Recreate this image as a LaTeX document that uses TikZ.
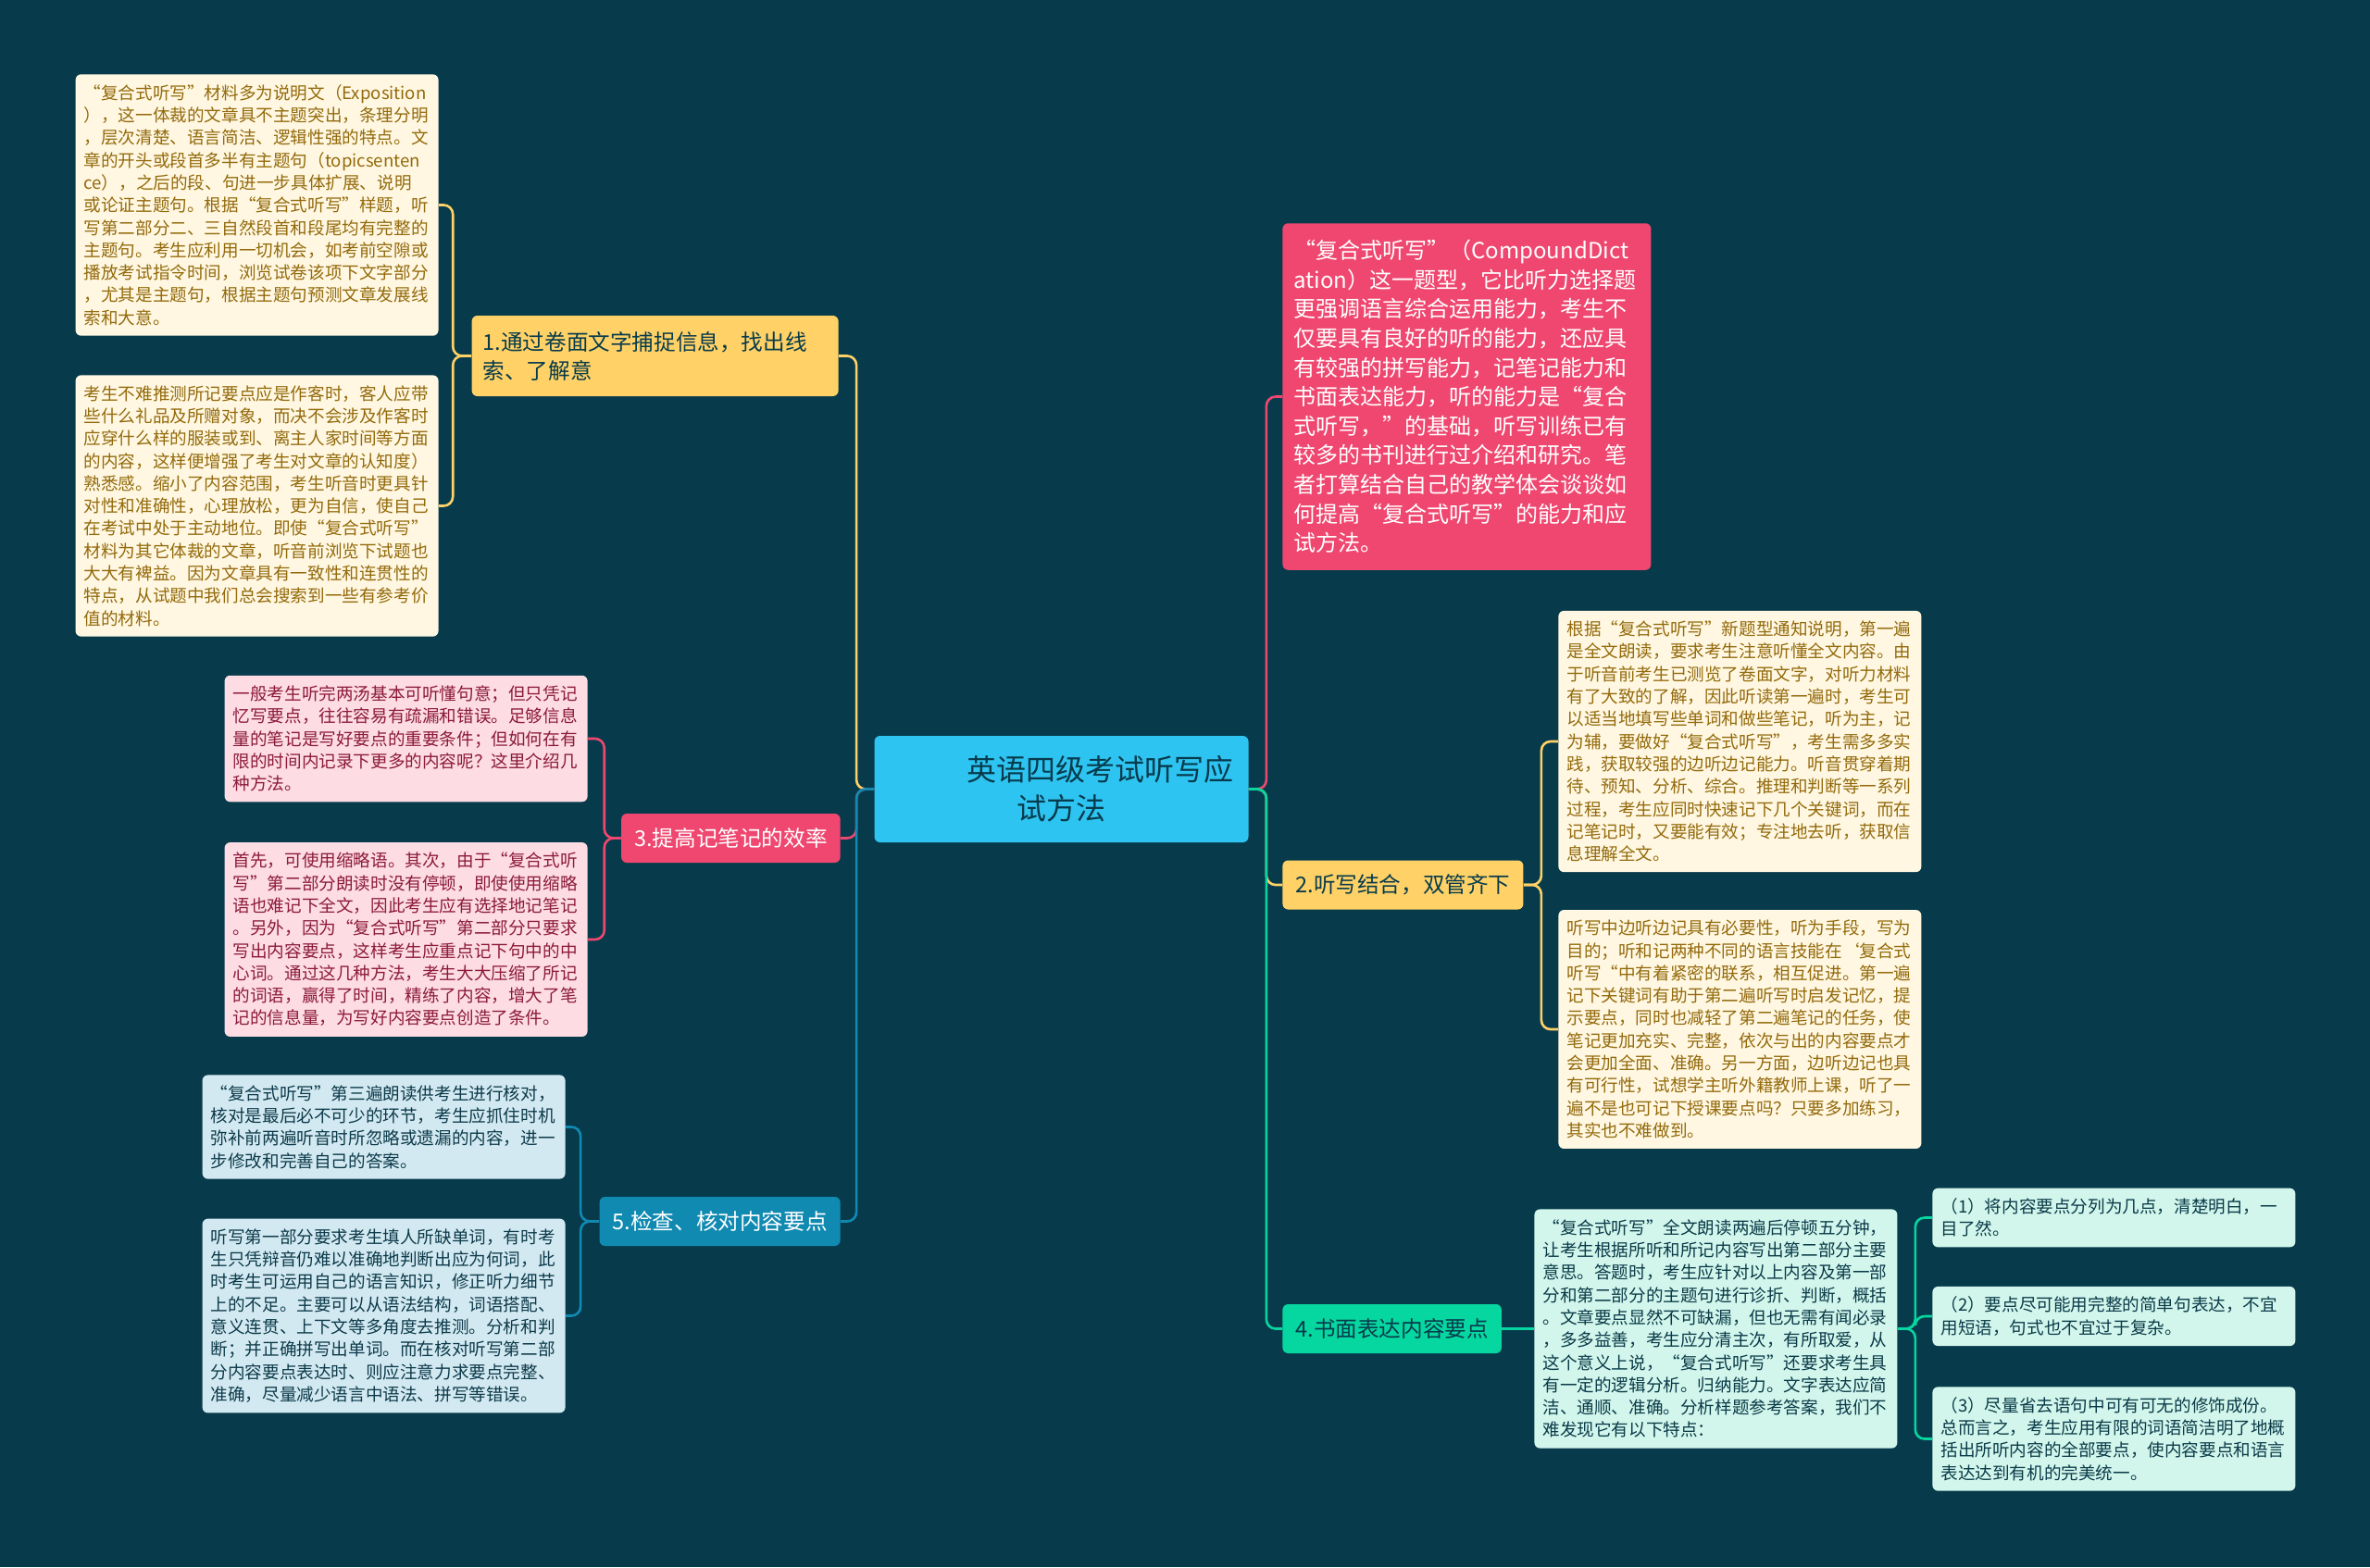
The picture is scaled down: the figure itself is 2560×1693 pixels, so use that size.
\documentclass[tikz,border=0pt]{standalone}
\usepackage{fontspec}
\setmainfont{Noto Sans CJK SC}
\definecolor{mmbg}{HTML}{073B4C}
\definecolor{mmyellow}{HTML}{FFD166}
\definecolor{mmred}{HTML}{EF476F}
\definecolor{mmgreen}{HTML}{06D6A0}
\definecolor{mmblue}{HTML}{118AB2}
\definecolor{mmcyan}{HTML}{2EC4F1}
\definecolor{ylfill}{HTML}{FFF7E1}
\definecolor{yltext}{HTML}{936A0C}
\definecolor{plfill}{HTML}{FDDCE3}
\definecolor{pltext}{HTML}{8C1A3B}
\definecolor{blfill}{HTML}{D3E9F1}
\definecolor{bltext}{HTML}{0C3A4A}
\definecolor{glfill}{HTML}{D2F6EC}
\definecolor{gltext}{HTML}{0A3A48}

\begin{document}
\begin{tikzpicture}[
  x=0.5pt, y=-0.5pt,
  box/.style={rounded corners=3pt, align=left, inner ysep=5.5pt},
  topic/.style={box, fill=mmcyan, text=mmbg, align=center, text width=190pt, inner xsep=6pt, minimum height=57.5pt, font=\fontsize{16pt}{21pt}\selectfont},
  branch/.style={box, minimum height=26.5pt, inner xsep=7pt, font=\fontsize{11.8pt}{15.5pt}\selectfont},
  ybranch/.style={branch, fill=mmyellow, text=mmbg},
  rbranch/.style={branch, fill=mmred, text=white},
  bbranch/.style={branch, fill=mmblue, text=white},
  gbranch/.style={branch, fill=mmgreen, text=mmbg},
  note/.style={box, fill=mmred, text=white, text width=187pt, inner xsep=6pt, inner ysep=9pt, font=\fontsize{12pt}{15.8pt}\selectfont},
  leaf/.style={box, text width=187pt, inner xsep=4.5pt, font=\fontsize{9.3pt}{12.15pt}\selectfont},
  yleaf/.style={leaf, fill=ylfill, text=yltext},
  pleaf/.style={leaf, fill=plfill, text=pltext},
  bleaf/.style={leaf, fill=blfill, text=bltext},
  gleaf/.style={leaf, fill=glfill, text=gltext},
  link/.style={line width=1.3pt, rounded corners=5pt},
]
  \fill[mmbg] (0,0) rectangle (2560,1693);
  \useasboundingbox (0,0) rectangle (2560,1693);

  \node[topic] (root) at (1146.5,852.5) {\hspace*{2.6em}英语四级考试听写应\\试方法};

  % left branches
  \node[ybranch, anchor=east, text width=186pt, inner xsep=6pt, minimum height=43.5pt] (n1) at (906,384.5) {1.通过卷面文字捕捉信息，找出线\\索、了解意};
  \node[rbranch, anchor=east] (n3) at (908,905.5) {3.提高记笔记的效率};
  \node[bbranch, anchor=east] (n5) at (908,1319.5) {5.检查、核对内容要点};

  \node[yleaf, anchor=east] (l1a) at (474,221.5) {“复合式听写”材料多为说明文（Exposition\\），这一体裁的文章具不主题突出，条理分明\\，层次清楚、语言简洁、逻辑性强的特点。文\\章的开头或段首多半有主题句（topicsenten\\ce），之后的段、句进一步具体扩展、说明\\或论证主题句。根据“复合式听写”样题，听\\写第二部分二、三自然段首和段尾均有完整的\\主题句。考生应利用一切机会，如考前空隙或\\播放考试指令时间，浏览试卷该项下文字部分\\，尤其是主题句，根据主题句预测文章发展线\\索和大意。};
  \node[yleaf, anchor=east] (l1b) at (474,546.5) {考生不难推测所记要点应是作客时，客人应带\\些什么礼品及所赠对象，而决不会涉及作客时\\应穿什么样的服装或到、离主人家时间等方面\\的内容，这样便增强了考生对文章的认知度）\\熟悉感。缩小了内容范围，考生听音时更具针\\对性和准确性，心理放松，更为自信，使自己\\在考试中处于主动地位。即使“复合式听写”\\材料为其它体裁的文章，听音前浏览下试题也\\大大有裨益。因为文章具有一致性和连贯性的\\特点，从试题中我们总会搜索到一些有参考价\\值的材料。};
  \node[pleaf, anchor=east] (l3a) at (635,798) {一般考生听完两汤基本可听懂句意；但只凭记\\忆写要点，往往容易有疏漏和错误。足够信息\\量的笔记是写好要点的重要条件；但如何在有\\限的时间内记录下更多的内容呢？这里介绍几\\种方法。};
  \node[pleaf, anchor=east] (l3b) at (635,1015) {首先，可使用缩略语。其次，由于“复合式听\\写”第二部分朗读时没有停顿，即使使用缩略\\语也难记下全文，因此考生应有选择地记笔记\\。另外，因为“复合式听写”第二部分只要求\\写出内容要点，这样考生应重点记下句中的中\\心词。通过这几种方法，考生大大压缩了所记\\的词语，赢得了时间，精练了内容，增大了笔\\记的信息量，为写好内容要点创造了条件。};
  \node[bleaf, anchor=east] (l5a) at (611,1217.5) {“复合式听写”第三遍朗读供考生进行核对，\\核对是最后必不可少的环节，考生应抓住时机\\弥补前两遍听音时所忽略或遗漏的内容，进一\\步修改和完善自己的答案。};
  \node[bleaf, anchor=east] (l5b) at (611,1421.5) {听写第一部分要求考生填人所缺单词，有时考\\生只凭辩音仍难以准确地判断出应为何词，此\\时考生可运用自己的语言知识，修正听力细节\\上的不足。主要可以从语法结构，词语搭配、\\意义连贯、上下文等多角度去推测。分析和判\\断；并正确拼写出单词。而在核对听写第二部\\分内容要点表达时、则应注意力求要点完整、\\准确，尽量减少语言中语法、拼写等错误。};

  % right branches
  \node[note, anchor=west] (intro) at (1385,428.5) {“复合式听写”（CompoundDict\\ation）这一题型，它比听力选择题\\更强调语言综合运用能力，考生不\\仅要具有良好的听的能力，还应具\\有较强的拼写能力，记笔记能力和\\书面表达能力，听的能力是“复合\\式听写，”的基础，听写训练已有\\较多的书刊进行过介绍和研究。笔\\者打算结合自己的教学体会谈谈如\\何提高“复合式听写”的能力和应\\试方法。};
  \node[ybranch, anchor=west] (n2) at (1385,956) {2.听写结合，双管齐下};
  \node[gbranch, anchor=west] (n4) at (1385,1435.5) {4.书面表达内容要点};

  \node[yleaf, anchor=west] (l2a) at (1683,801) {根据“复合式听写”新题型通知说明，第一遍\\是全文朗读，要求考生注意听懂全文内容。由\\于听音前考生已测览了卷面文字，对听力材料\\有了大致的了解，因此听读第一遍时，考生可\\以适当地填写些单词和做些笔记，听为主，记\\为辅，要做好“复合式听写”，考生需多多实\\践，获取较强的边听边记能力。听音贯穿着期\\待、预知、分析、综合。推理和判断等一系列\\过程，考生应同时快速记下几个关键词，而在\\记笔记时，又要能有效；专注地去听，获取信\\息理解全文。};
  \node[yleaf, anchor=west] (l2b) at (1683,1112) {听写中边听边记具有必要性，听为手段，写为\\目的；听和记两种不同的语言技能在‘复合式\\听写“中有着紧密的联系，相互促进。第一遍\\记下关键词有助于第二遍听写时启发记忆，提\\示要点，同时也减轻了第二遍笔记的任务，使\\笔记更加充实、完整，依次与出的内容要点才\\会更加全面、准确。另一方面，边听边记也具\\有可行性，试想学主听外籍教师上课，听了一\\遍不是也可记下授课要点吗？只要多加练习，\\其实也不难做到。};
  \node[gleaf, anchor=west] (l4a) at (1657,1435.5) {“复合式听写”全文朗读两遍后停顿五分钟，\\让考生根据所听和所记内容写出第二部分主要\\意思。答题时，考生应针对以上内容及第一部\\分和第二部分的主题句进行诊折、判断，概括\\。文章要点显然不可缺漏，但也无需有闻必录\\，多多益善，考生应分清主次，有所取爱，从\\这个意义上说，“复合式听写”还要求考生具\\有一定的逻辑分析。归纳能力。文字表达应简\\洁、通顺、准确。分析样题参考答案，我们不\\难发现它有以下特点：};
  \node[gleaf, anchor=west] (l4b1) at (2087,1315.5) {（1）将内容要点分列为几点，清楚明白，一\\目了然。};
  \node[gleaf, anchor=west] (l4b2) at (2087,1422) {（2）要点尽可能用完整的简单句表达，不宜\\用短语，句式也不宜过于复杂。};
  \node[gleaf, anchor=west] (l4b3) at (2087,1554.5) {（3）尽量省去语句中可有可无的修饰成份。\\总而言之，考生应用有限的词语简洁明了地概\\括出所听内容的全部要点，使内容要点和语言\\表达达到有机的完美统一。};

  % root to branches, left then right
  \draw[link, mmyellow] (root.west) -- ++(-19,0) |- (n1.east);
  \draw[link, mmred] (root.west) -- ++(-19,0) |- (n3.east);
  \draw[link, mmblue] (root.west) -- ++(-19,0) |- (n5.east);
  \draw[link, mmred] (root.east) -- ++(19,0) |- (intro.west);
  \draw[link, mmyellow] (root.east) -- ++(19,0) |- (n2.west);
  \draw[link, mmgreen] (root.east) -- ++(19,0) |- (n4.west);

  % branches to leaves
  \draw[link, mmyellow] (n1.west) -- ++(-20,0) |- (l1a.east);
  \draw[link, mmyellow] (n1.west) -- ++(-20,0) |- (l1b.east);
  \draw[link, mmred] (n3.west) -- ++(-18,0) |- (l3a.east);
  \draw[link, mmred] (n3.west) -- ++(-18,0) |- (l3b.east);
  \draw[link, mmblue] (n5.west) -- ++(-20,0) |- (l5a.east);
  \draw[link, mmblue] (n5.west) -- ++(-20,0) |- (l5b.east);
  \draw[link, mmyellow] (n2.east) -- ++(19,0) |- (l2a.west);
  \draw[link, mmyellow] (n2.east) -- ++(19,0) |- (l2b.west);
  \draw[link, mmgreen] (n4.east) -- (l4a.west);
  \draw[link, mmgreen] (l4a.east) -- ++(19,0) |- (l4b1.west);
  \draw[link, mmgreen] (l4a.east) -- ++(19,0) |- (l4b2.west);
  \draw[link, mmgreen] (l4a.east) -- ++(19,0) |- (l4b3.west);
\end{tikzpicture}
\end{document}
